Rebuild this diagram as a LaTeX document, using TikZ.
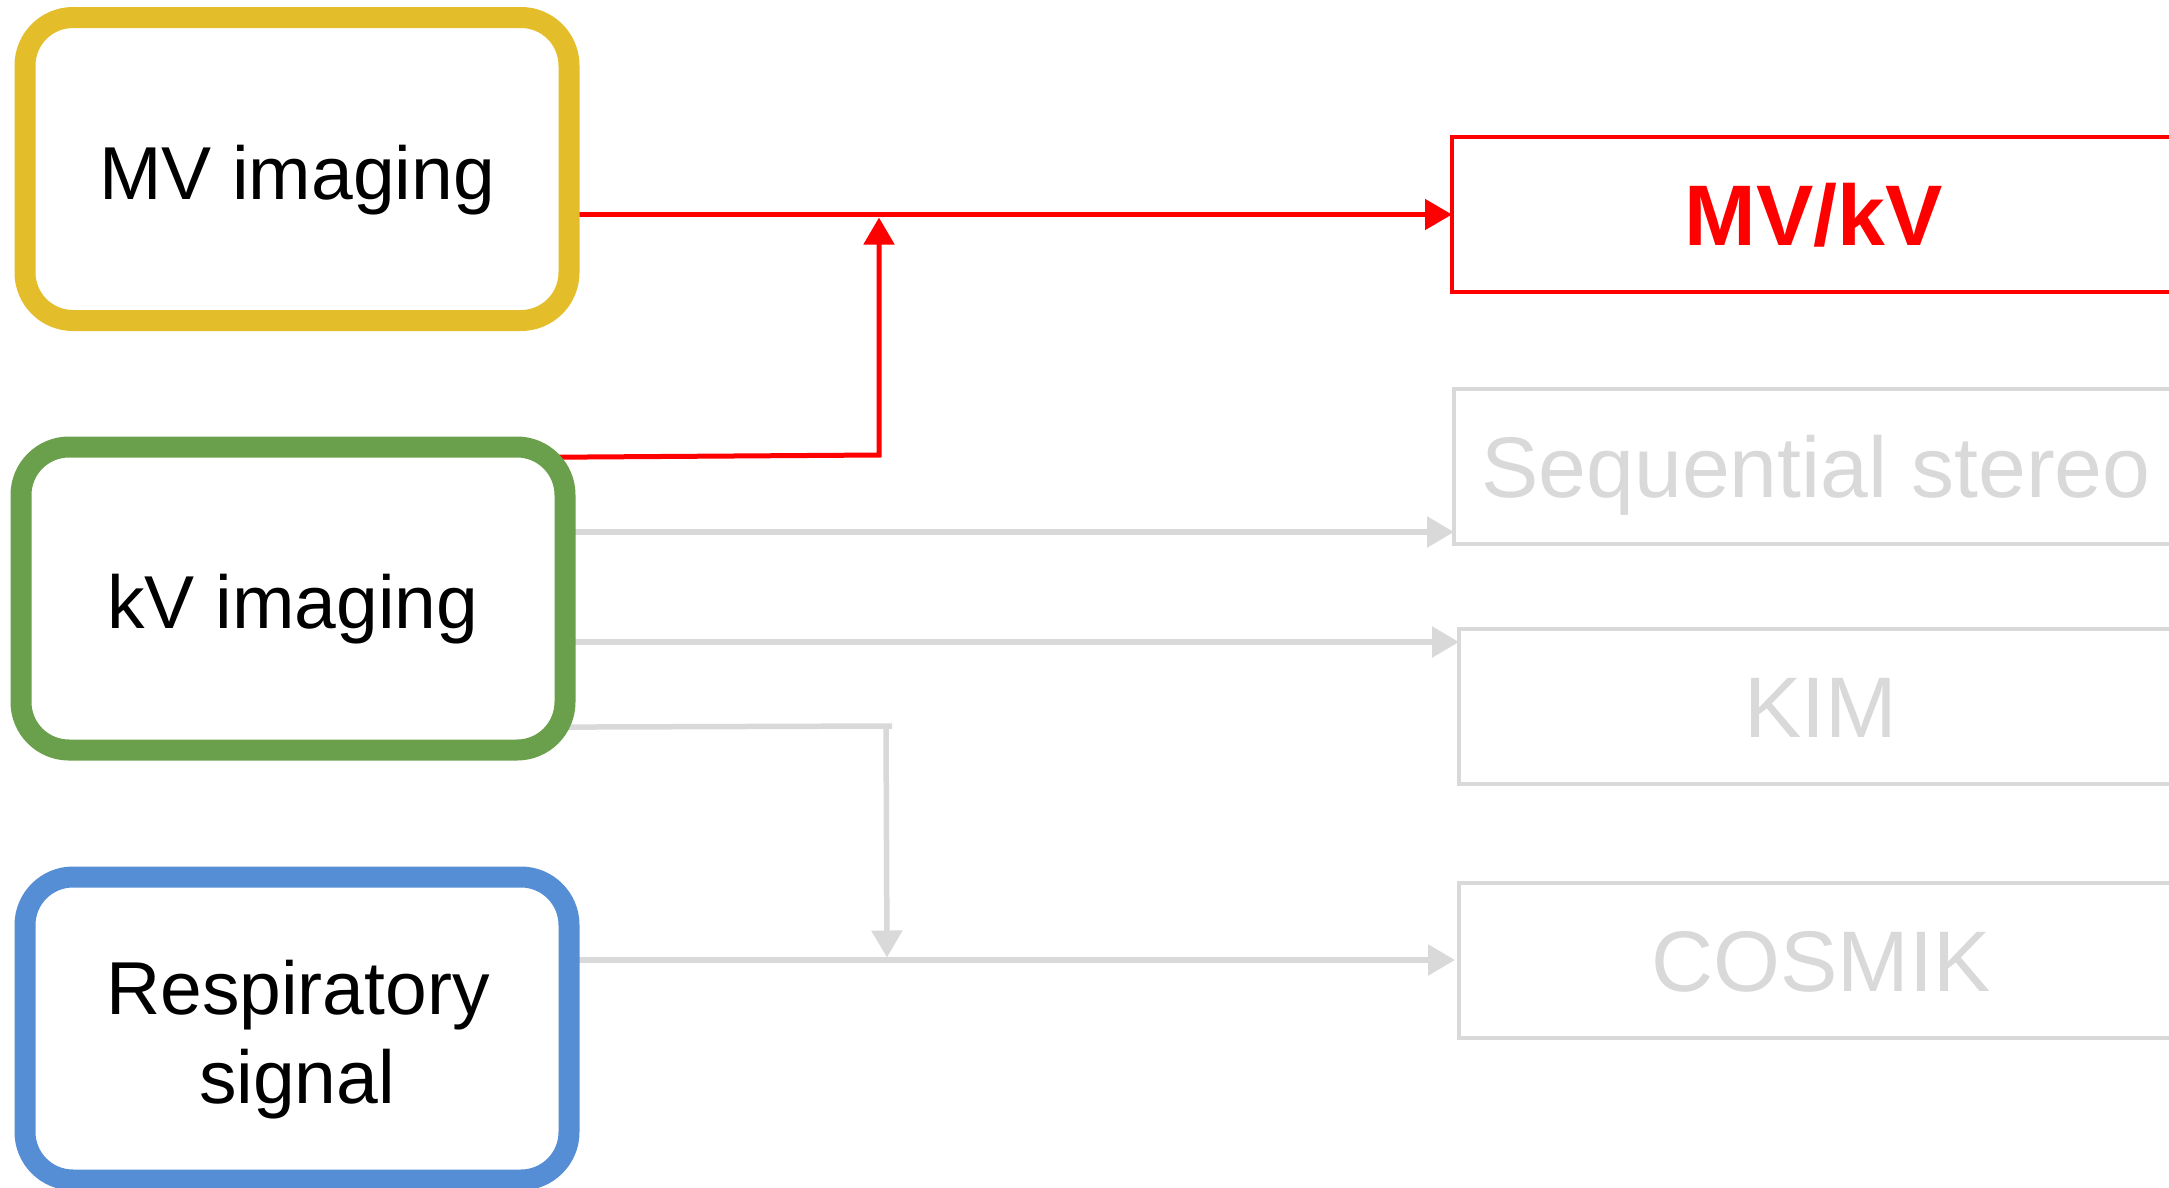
\documentclass[tikz,border=0pt]{standalone}
\usepackage{fontspec}
\setmainfont{Liberation Sans}
\usetikzlibrary{arrows.meta,backgrounds}

\definecolor{mvgold}{HTML}{E4BD2B}
\definecolor{kvgreen}{HTML}{6AA04B}
\definecolor{respblue}{HTML}{558ED5}
\definecolor{palegrey}{HTML}{D9D9D9}
\definecolor{hotred}{HTML}{FF0000}

\begin{document}
\begin{tikzpicture}[x=1pt,y=-1pt,
  srcbox/.style={draw, fill=white, line width=21pt, rounded corners=48pt,
    minimum width=544pt, minimum height=303pt, inner sep=0pt},
  srcfont/.style={font=\fontsize{75pt}{89pt}\selectfont, inner sep=0pt},
  srclabel/.style={srcfont, text height=60pt, text depth=0pt},
  methodbox/.style={draw, fill=white, line width=4.5pt, minimum width=724pt,
    minimum height=155pt, inner sep=0pt, outer sep=0pt,
    font=\fontsize{86pt}{100pt}\selectfont, text height=61.6pt, text depth=0pt},
  feedline/.style={line width=5pt, -{Triangle[length=27pt,width=30pt]}},
  tapline/.style={line width=5pt},
]
\useasboundingbox (0,0) rectangle (2169,1187);

% input sources
\node[srcbox, srclabel, draw=mvgold] (mv) at (297,169) {MV imaging};
\node[srcbox, srclabel, draw=kvgreen] (kv) at (293,598.5) {kV imaging};
\node[srcbox, draw=respblue] (resp) at (297,1028.5) {};
\node[srcfont, anchor=base] (resptop) at (298,1014) {Respiratory};
\node[srcfont, anchor=base] (respbottom) at (297,1103) {signal};

% tracking methods
\node[methodbox, draw=hotred, line width=4pt, text=hotred,
  font=\fontsize{86pt}{100pt}\selectfont\bfseries] (mvkv) at (1814,214.5) {MV/kV};
\node[methodbox, draw=palegrey, text=palegrey] (seq) at (1816,466.5) {Sequential stereo};
\node[methodbox, draw=palegrey, text=palegrey] (kim) at (1821,706.5) {KIM};
\node[methodbox, draw=palegrey, text=palegrey] (cosmik) at (1821,960.5) {COSMIK};

% junction points of the connectors
\coordinate (kvtap) at (879,455);
\coordinate (redjoin) at (879,217.5);
\coordinate (seqin) at (1454,532);
\coordinate (kimin) at (1459,642);
\coordinate (kvtapb) at (892,726);
\coordinate (drop) at (886,726);
\coordinate (dropend) at (887,957.5);
\coordinate (cosmikin) at (1455,960);

\begin{scope}[on background layer]
  % active path: MV and kV into MV/kV
  \draw[feedline, hotred] (mv.center |- mvkv.west) -- (mvkv.west);
  \draw[feedline, hotred, line join=miter] (kv.center |- 0,459) -- (kvtap) -- (redjoin);
  % inactive paths
  \draw[feedline, palegrey, line width=5.5pt] (kv.center |- seqin) -- (seqin);
  \draw[feedline, palegrey, line width=5.5pt] (kv.center |- kimin) -- (kimin);
  \draw[tapline, palegrey, line width=5.5pt] (kv.center |- 0,728) -- (kvtapb);
  \draw[feedline, palegrey, line width=5.5pt] (drop) -- (dropend);
  \draw[feedline, palegrey, line width=5.5pt] (resp.center |- cosmikin) -- (cosmikin);
\end{scope}
\end{tikzpicture}
\end{document}
